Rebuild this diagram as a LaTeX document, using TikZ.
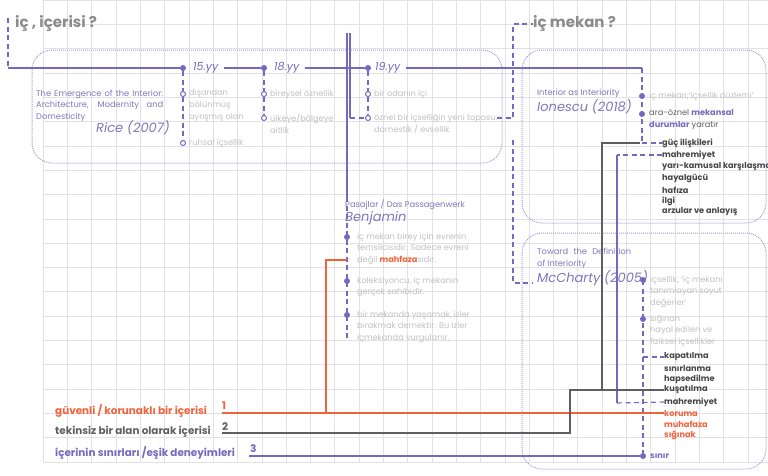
\documentclass[tikz,border=0pt]{standalone}
\usepackage{fontspec}
\setmainfont{Poppins}
\usetikzlibrary{positioning}

\definecolor{pline}{RGB}{118,104,192}
\definecolor{ptext}{RGB}{128,118,188}
\definecolor{boxc}{RGB}{165,155,215}
\definecolor{lgray}{RGB}{192,192,192}
\definecolor{tgray}{RGB}{140,140,140}
\definecolor{dgray}{RGB}{70,70,70}
\definecolor{gline}{RGB}{95,95,95}
\definecolor{orng}{RGB}{240,98,58}
\definecolor{gridc}{RGB}{226,226,230}

\tikzset{
  gridl/.style={draw=gridc, line width=0.9pt},
  boxl/.style={draw=boxc, line width=1pt, densely dotted, rounded corners=20pt},
  pl/.style={draw=pline, line width=1.1pt},
  dl/.style={draw=pline, line width=1.1pt, dash pattern=on 5pt off 3.5pt},
  gl/.style={draw=gline, line width=1.4pt},
  ol/.style={draw=orng, line width=1.4pt},
  fdot/.style={circle, fill=pline, inner sep=0pt, minimum size=6pt},
  odot/.style={circle, draw=pline, line width=1pt, fill=white, inner sep=0pt, minimum size=5pt},
  ttl/.style={text=tgray, font=\fontsize{15}{18}\selectfont\bfseries, inner sep=0pt, anchor=west},
  yy/.style={text=pline, font=\fontsize{11}{13}\selectfont\itshape, inner sep=5pt, anchor=west},
  note/.style={text=lgray, font=\fontsize{8.2}{11.7}\selectfont, align=left, inner sep=0pt, anchor=west},
  src/.style={text=ptext, font=\fontsize{8.3}{11.5}\selectfont, align=left, inner sep=0pt, anchor=west},
  auth/.style={text=ptext, font=\fontsize{13}{15}\selectfont\itshape, inner sep=0pt, anchor=west},
  item/.style={text=dgray, font=\fontsize{8.2}{11}\selectfont\bfseries, inner sep=0pt, anchor=west},
  lab/.style={font=\fontsize{10.4}{12}\selectfont\bfseries, inner sep=0pt, anchor=west},
  num/.style={font=\fontsize{10.5}{12}\selectfont\bfseries, inner sep=0pt, anchor=west}
}

\begin{document}
\begin{tikzpicture}[x=1pt,y=-1pt]
\useasboundingbox (0,0) rectangle (768,475);

% grid
\foreach \i in {0,...,29}
  \draw[gridl] ({43.3+24.3*\i},0) -- ({43.3+24.3*\i},462);
\foreach \j in {0,...,19}
  \draw[gridl] (43.3,{462-24.3*\j}) -- (768,{462-24.3*\j});

% boxes
\draw[boxl] (32,50) rectangle (502,163);
\draw[boxl] (522,50) rectangle (766,223);
\draw[boxl] (522,233) rectangle (766,469);

% titles
\node[ttl] (q1) at (15,24) {iç , içerisi ?};
\node[ttl] (q2) at (533,24) {iç mekan ?};

% timeline
\coordinate (t1) at (8,18);
\coordinate (t0) at (8,68);
\coordinate (tE) at (642,68);
\node[fdot] (d15) at (183,68) {};
\node[fdot] (d18) at (264,68) {};
\node[fdot] (d19) at (368,68) {};
\node[yy] (y15) at (188,68) {15.yy};
\node[yy] (y18) at (269,68) {18.yy};
\node[yy] (y19) at (370,68) {19.yy};
\draw[dl] (t1) -- (t0);
\draw[pl] (t0) -- (d15);
\draw[pl] (y15.east) -- (d18);
\draw[pl] (y18.east) -- (d19);
\draw[pl] (y19.east) -- (tE);

% Rice
\node[src] (rsrc) at (36,105.5) {\makebox[127pt][s]{The Emergence of the Interior:}\\\makebox[127pt][s]{Architecture, Modernity and}\\Domesticity};
\node[auth] (rice) at (96,128) {Rice (2007)};
\node[odot] (c15a) at (183,94) {};
\node[odot] (c15b) at (183,143) {};
\node[odot] (c18a) at (264,94) {};
\node[odot] (c18b) at (264,118) {};
\node[odot] (c19a) at (368,94) {};
\node[odot] (c19b) at (368,118) {};
\draw[dl] (d15) -- (c15a) -- (c15b);
\draw[dl] (d18) -- (c18a) -- (c18b);
\draw[dl] (d19) -- (c19a) -- (c19b);
\node[note] (n15a) at (189,105.7) {dışarıdan\\bölünmüş\\ayrışmış olan};
\node[note] (n15b) at (189,143) {ruhsal içsellik};
\node[note] (n18a) at (270,94) {bireysel öznellik};
\node[note] (n18b) at (270,123.85) {ülkeye/bölgeye\\aitlik};
\node[note] (n19a) at (374,94) {bir odanın içi};
\node[note] (n19b) at (374,123.85) {öznel bir içselliğin yeni toposu.\\domestik / evsellik};

% Benjamin link
\coordinate (v1) at (347,33);
\coordinate (v1e) at (347,197);
\coordinate (v2) at (350,33);
\coordinate (v2e) at (350,118);
\draw[pl] (v1) -- (v1e);
\draw[pl] (v2) -- (v2e);
\draw[dl] (v2e) -- (c19b);
\draw[dl] (497,118) -- (513,118) -- (513,24) -- (q2.west);

% Benjamin
\node[src] (bsrc) at (345,205) {Pasajlar / Das Passagenwerk};
\node[auth] (benj) at (345,218) {Benjamin};
\coordinate (bE) at (347,340);
\draw[dl] (v1e) -- (bE);
\node[fdot] (b1) at (347,237) {};
\node[fdot] (b2) at (347,281) {};
\node[fdot] (b3) at (347,315) {};
\node[note] (nb1) at (357,248.7) {iç mekan birey için evrenin\\temsilcisidir. Sadece evreni\\değil \textcolor{orng}{\bfseries mahfaza}sıdır.};
\node[note] (nb2) at (357,286.85) {koleksiyoncu, iç mekanın\\gerçek sahibidir.};
\node[note] (nb3) at (357,326.7) {bir mekanda yaşamak, izler\\bırakmak demektir. Bu izler\\içmekanda vurgulanır.};

% Ionescu
\node[src] (isrc) at (537,93) {Interior as Interiority};
\node[auth] (ion) at (537,107) {Ionescu (2018)};
\coordinate (iE) at (642,143);
\draw[dl] (tE) -- (iE);
\node[fdot] (i1) at (642,96) {};
\node[fdot] (i2) at (642,114) {};
\node[note] (ni1) at (649,96) {iç mekan;'içsellik düzlemi'};
\node[note, text=gline] (ni2) at (649,119.85) {ara-öznel \textcolor{pline}{\bfseries mekansal}\\\textcolor{pline}{\bfseries durumlar} yaratır};

\node[item] (k1) at (662,143) {güç ilişkileri};
\node[item] (k2) at (662,155) {mahremiyet};
\node[item] (k3) at (662,167) {yarı-kamusal karşılaşmalar};
\node[item] (k4) at (662,178.5) {hayalgücü};
\node[item] (k5) at (662,190) {hafıza};
\node[item] (k6) at (662,201) {ilgi};
\node[item] (k7) at (662,212) {arzular ve anlayış};

% McCharty
\node[src] (msrc) at (537,258.5) {\makebox[94pt][s]{Toward the Definition}\\of Interiority};
\node[auth] (mcc) at (537,278) {McCharty (2005)};
\draw[dl] (513,140) -- (513,283) -- (532,283);
\coordinate (mK) at (643,357);
\node[fdot] (mS) at (643,456) {};
\draw[dl] (643,280) -- (mS);
\node[fdot] (m1) at (643,280) {};
\node[fdot] (m2) at (643,319) {};
\node[note] (nm1) at (650,291.7) {içsellik; 'iç mekanı\\tanımlayan soyut\\değerler'};
\node[note] (nm2) at (650,330.7) {sığınan\\hayal edilen ve\\fiziksel içsellikler};

\node[item] (p1) at (664,357) {kapatılma};
\node[item] (p2) at (664,368) {sınırlanma};
\node[item] (p3) at (664,379) {hapsedilme};
\node[item] (p4) at (664,390) {kuşatılma};
\node[item] (p5) at (664,402) {mahremiyet};
\node[item, text=orng] (p6) at (664,413) {koruma};
\node[item, text=orng] (p7) at (664,424) {muhafaza};
\node[item, text=orng] (p8) at (664,435) {sığınak};
\node[item, text=pline] (p9) at (650,456) {sınır};
\draw[dl] (mK) -- (p1.west);

% connectors between lists
\draw[dl] (iE) -- (k1.west);
\draw[gl] (640,143) -- (602,143) -- (602,390);
\draw[dl] (k2.west) -- (617,155);
\draw[pl] (617,155) -- (617,403);
\draw[dl] (617,403) -- (p5.west);

% bottom labels
\node[lab, text=orng] (L1) at (55,411) {güvenli / korunaklı bir içerisi};
\node[lab, text=gline] (L2) at (55,432) {tekinsiz bir alan olarak içerisi};
\node[lab, text=pline] (L3) at (55,453) {içerinin sınırları /eşik deneyimleri};
\node[num, text=orng] (N1) at (222,406) {1};
\node[num, text=gline] (N2) at (222,427) {2};
\node[num, text=pline] (N3) at (250,449) {3};

\draw[ol] (222,413) -- (p6.west);
\draw[ol] (347,260) -- (326,260) -- (326,413);
\draw[gl] (222,433) -- (570,433) -- (570,390) -- (p4.west);
\draw[pl] (249,456) -- (mS);
\end{tikzpicture}
\end{document}
